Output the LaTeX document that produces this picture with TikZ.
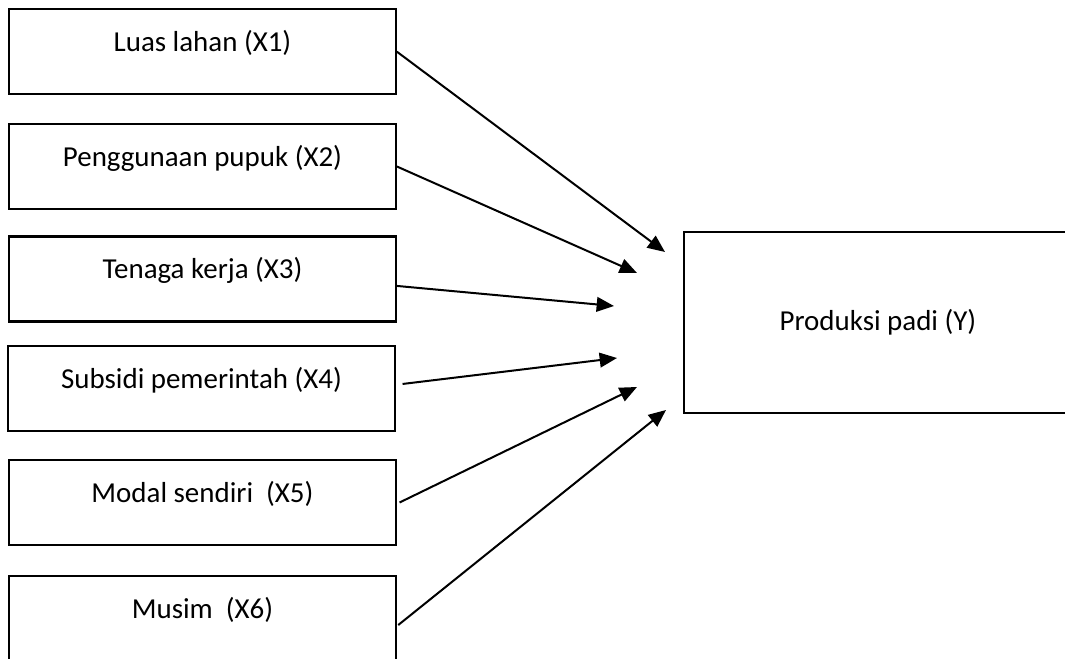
\documentclass[tikz,border=0pt]{standalone}
\usepackage{fontspec}
\setmainfont{Carlito}
\usepackage{tikz}
\usetikzlibrary{arrows.meta,positioning}

\tikzset{
  varbox/.style={draw, line width=1.6pt, minimum width=290pt, minimum height=63.75pt,
    inner sep=0pt, text height=11pt, text depth=11pt},
  ybox/.style={draw, line width=1.6pt, minimum width=291pt, minimum height=135.75pt},
  panah/.style={line width=1.5pt, -{Triangle[length=13pt,width=11pt]}}
}

\begin{document}
\begin{tikzpicture}[x=0.75pt, y=-0.75pt, font=\fontsize{21.7}{26}\selectfont]
            \useasboundingbox (0,0) rectangle (1065,659);
            \clip (0,0) rectangle (1065,659);

            % left boxes
            \node[varbox] (x1) at (202.5,51.7)  {Luas lahan (X1)};
            \node[varbox] (x2) at (202.5,166.5) {Penggunaan pupuk (X2)};
            \node[varbox] (x3) at (202.5,279)   {Tenaga kerja (X3)};
            \node[varbox] (x4) at (201.5,388.5) {Subsidi pemerintah (X4)};
            \node[varbox] (x5) at (202.5,502.5) {Modal sendiri~~(X5)};
            \node[varbox] (x6) at (202.5,618.5) {Musim~~(X6)};

            % right box
            \node[ybox] (y) at (878,322.5) {Produksi padi (Y)};

            % arrow tips
            \coordinate (t1) at (665,252);
            \coordinate (t2) at (637,273);
            \coordinate (t3) at (614,306);
            \coordinate (t4) at (617,358);
            \coordinate (t5) at (637,387);
            \coordinate (t6) at (666,410);

            \draw[panah] (x1.east) -- (t1);
            \draw[panah] (x2.east) -- (t2);
            \draw[panah] ([yshift=-5.2pt]x3.east) -- (t3);
            \draw[panah] ([xshift=5pt,yshift=3.4pt]x4.east) -- (t4);
            \draw[panah] ([xshift=2pt]x5.east) -- (t5);
            \draw[panah] ([xshift=1pt,yshift=-4.9pt]x6.east) -- (t6);
\end{tikzpicture}
\end{document}
